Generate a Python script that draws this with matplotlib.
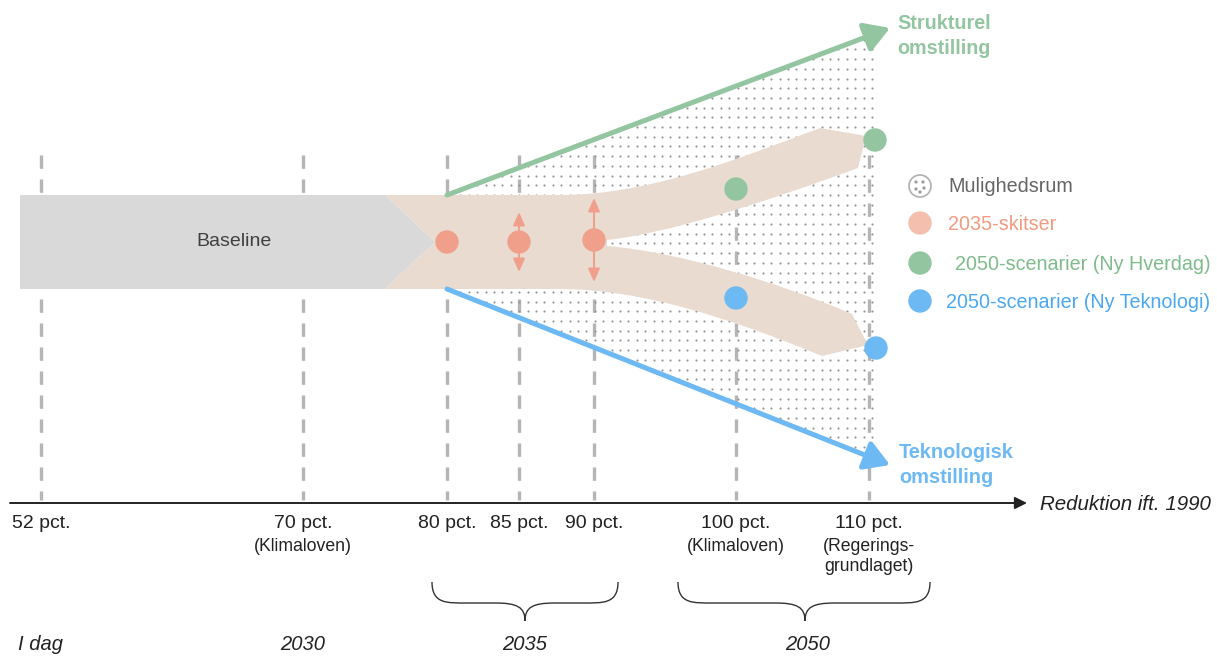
import numpy as np
import matplotlib.pyplot as plt
from matplotlib.path import Path
from matplotlib.patches import PathPatch, Polygon, Circle

plt.rcParams['font.family'] = ['Liberation Sans', 'DejaVu Sans']

# reductions relative to 1990 (pct.) and their notes
pct_values = [52, 70, 80, 85, 90, 100, 110]
pct_notes = ['', '(Klimaloven)', '', '', '', '(Klimaloven)', '(Regerings-\ngrundlaget)']
periods = ['I dag', '2030', '2035', '2050']
sketches_2035 = [80, 85, 90]
scen_hverdag = [100, 110]
scen_teknologi = [100, 110]
legend_labels = ['Mulighedsrum', '2035-skitser', '2050-scenarier (Ny Hverdag)',
                 '2050-scenarier (Ny Teknologi)']

# layout (pixel positions on the drawing)
tick_px = [41, 303, 447, 519, 594, 736, 869]
px = dict(zip(pct_values, tick_px))
W, H = 1217, 657

GREEN = '#93c5a0'
BLUE = '#6cb9f3'
SALMON = '#f0a08a'
BEIGE = '#e9dbd0'
GREY = '#d9d9d9'
TXT = '#404040'

fig = plt.figure(figsize=(W / 100, H / 100), dpi=100)
ax = fig.add_axes([0, 0, 1, 1])
ax.set_xlim(0, W)
ax.set_ylim(H, 0)
ax.axis('off')

# dashed guide lines
for x in tick_px:
    ax.plot([x, x], [155, 500], color='#b5b5b5', lw=2.4, ls=(0, (4, 3.2)), zorder=1)

# room of possibilities (dotted area)
y_top0, y_bot0 = 195, 289
x0, x_end = 447, 890
green_end, blue_end = 28, 465
x_r = 874
yg = y_top0 + (green_end - y_top0) * (x_r - x0) / (x_end - x0)
yb = y_bot0 + (blue_end - y_bot0) * (x_r - x0) / (x_end - x0)
room = Polygon([(x0, y_top0), (x_r, yg), (x_r, yb), (x0, y_bot0)], closed=True,
               facecolor='none', edgecolor='none')
ax.add_patch(room)
gx, gy = np.meshgrid(np.arange(452, 875, 8.4), np.arange(30, 470, 9.7))
dots = ax.scatter(gx.ravel(), gy.ravel(), s=2.4, color='#959595', lw=0, zorder=2)
dots.set_clip_path(room)

# baseline block
ax.add_patch(Polygon([(20, y_top0), (385, y_top0), (435, 242), (385, y_bot0), (20, y_bot0)],
                     closed=True, facecolor=GREY, edgecolor='none', zorder=3))
ax.text(234, 242, 'Baseline', ha='center', va='center', fontsize=14, color=TXT, zorder=4)

# beige fan
verts = [(385, 195), (560, 195),
         (650, 195), (740, 158), (820, 128),
         (866, 136), (858, 168),
         (760, 204), (665, 234), (607, 240),
         (607, 246),
         (680, 252), (780, 283), (852, 314),
         (868, 345), (822, 356),
         (730, 318), (640, 289), (560, 289),
         (385, 289), (435, 242), (385, 195)]
codes = [Path.MOVETO, Path.LINETO,
         Path.CURVE4, Path.CURVE4, Path.CURVE4,
         Path.LINETO, Path.LINETO,
         Path.CURVE4, Path.CURVE4, Path.CURVE4,
         Path.LINETO,
         Path.CURVE4, Path.CURVE4, Path.CURVE4,
         Path.LINETO, Path.LINETO,
         Path.CURVE4, Path.CURVE4, Path.CURVE4,
         Path.LINETO, Path.LINETO, Path.CLOSEPOLY]
ax.add_patch(PathPatch(Path(verts, codes), facecolor=BEIGE, edgecolor='none', zorder=3))

# outer arrows
ax.annotate('', xy=(x_end, green_end), xytext=(x0, y_top0),
            arrowprops=dict(arrowstyle='-|>,head_length=0.5,head_width=0.3', color=GREEN,
                            lw=3.6, mutation_scale=30, shrinkA=0, shrinkB=0), zorder=4)
ax.annotate('', xy=(x_end, blue_end), xytext=(x0, y_bot0),
            arrowprops=dict(arrowstyle='-|>,head_length=0.5,head_width=0.3', color=BLUE,
                            lw=3.6, mutation_scale=30, shrinkA=0, shrinkB=0), zorder=4)
ax.text(897, 36, 'Strukturel\nomstilling', color=GREEN, fontsize=14.2, fontweight='bold',
        ha='left', va='center', linespacing=1.35)
ax.text(899, 465, 'Teknologisk\nomstilling', color=BLUE, fontsize=14.4, fontweight='bold',
        ha='left', va='center', linespacing=1.35)

# 2035 sketches with uncertainty arrows
spread = {80: 0, 85: 30, 90: 42}
yc = {80: 242, 85: 242, 90: 240}
for p in sketches_2035:
    x = px[p]
    if spread[p]:
        for d in (-1, 1):
            ax.annotate('', xy=(x, yc[p] + d * spread[p]), xytext=(x, yc[p]),
                        arrowprops=dict(arrowstyle='-|>,head_length=0.8,head_width=0.35',
                                        color=SALMON, lw=1.4, mutation_scale=10,
                                        shrinkA=0, shrinkB=0), zorder=5)
    ax.add_patch(Circle((x, yc[p]), 11, color=SALMON, zorder=6))

# 2050 scenarios
y_hverdag = {100: 189, 110: 140}
y_tekno = {100: 298, 110: 348}
for p in scen_hverdag:
    ax.add_patch(Circle((px[p] + (6 if p == 110 else 0), y_hverdag[p]), 11, color=GREEN, zorder=6))
for p in scen_teknologi:
    ax.add_patch(Circle((px[p] + (7 if p == 110 else 0), y_tekno[p]), 11, color=BLUE, zorder=6))

# legend
leg_y = [186, 223, 263, 301]
leg_col = ['#666666', '#f09a80', '#7fbb8c', '#4aa8ef']
leg_x_txt = [948, 948, 955, 946]
ax.add_patch(Circle((920, leg_y[0]), 11, facecolor='white', edgecolor='#b0b0b0', lw=1.2, zorder=6))
for dx, dy in [(-4, -4), (3, -4), (-4, 3), (4, 2), (0, 6)]:
    ax.add_patch(Circle((920 + dx, leg_y[0] + dy), 0.9, color='#9a9a9a', zorder=7))
for y, c in zip(leg_y[1:], ['#f5bfae', GREEN, BLUE]):
    ax.add_patch(Circle((920, y), 11, color=c, zorder=6))
for lab, y, c, x in zip(legend_labels, leg_y, leg_col, leg_x_txt):
    ax.text(x, y + 1, lab, color=c, fontsize=14.2, ha='left', va='center')

# reduction axis
ax.annotate('', xy=(1027, 503), xytext=(10, 503),
            arrowprops=dict(arrowstyle='-|>', color='#222222', lw=1.4, mutation_scale=18,
                            shrinkA=0, shrinkB=0))
ax.text(1040, 505, 'Reduktion ift. 1990', style='italic', fontsize=14.8, color='#222222',
        ha='left', va='center')
for p, note in zip(pct_values, pct_notes):
    ax.text(px[p], 523, f'{p} pct.', fontsize=14, color='#222222', ha='center', va='center')
    if note:
        ax.text(px[p], 538, note, fontsize=12.7, color='#222222', ha='center', va='top',
                linespacing=1.2)


def brace(xa, xb, xm, y0=582, depth=39):
    ym = y0 + 21
    v = [(xa, y0), (xa, y0 + 22), (xa + 15, ym), (xa + 35, ym),
         (xm - 30, ym), (xm - 8, ym), (xm, ym + 4), (xm, y0 + depth),
         (xm, ym + 4), (xm + 8, ym), (xm + 30, ym),
         (xb - 35, ym), (xb - 15, ym), (xb, y0 + 22), (xb, y0)]
    c = [Path.MOVETO, Path.CURVE4, Path.CURVE4, Path.CURVE4,
         Path.LINETO, Path.CURVE4, Path.CURVE4, Path.CURVE4,
         Path.CURVE4, Path.CURVE4, Path.CURVE4,
         Path.LINETO, Path.CURVE4, Path.CURVE4, Path.CURVE4]
    ax.add_patch(PathPatch(Path(v, c), facecolor='none', edgecolor='#333333', lw=1.0))


brace(432, 618, 525)
brace(678, 930, 805)

period_x = [40, 303, 525, 808]
for lab, x in zip(periods, period_x):
    ax.text(x, 645, lab, style='italic', fontsize=14.5, color='#222222', ha='center', va='center')

fig.savefig('out.png', dpi=100)
